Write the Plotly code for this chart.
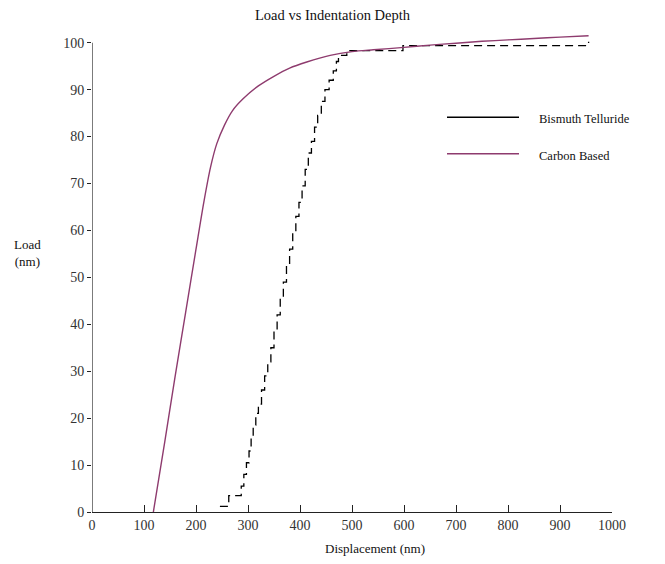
import plotly.graph_objects as go

# ---- data ----
carbon_x = [118, 140, 160, 180, 200, 215, 228, 240, 255, 270, 290, 320, 349, 380,
            413, 458, 500, 541, 600, 650, 700, 750, 800, 850, 900, 955]
carbon_y = [0, 15, 29, 42.5, 56, 66, 73.5, 78.5, 82.5, 85.5, 88, 90.8, 92.8, 94.6,
            95.9, 97.3, 98.1, 98.5, 99.0, 99.5, 99.9, 100.3, 100.6, 100.9, 101.2, 101.5]

bismuth_x = [246, 263, 287, 292, 297, 302, 306, 310, 315, 320, 326, 332, 338, 344,
             350, 356, 362, 368, 374, 380, 386, 392, 398, 404, 410, 416, 422, 428,
             434, 441, 448, 456, 464, 470, 474, 490, 598, 955]
bismuth_y = [1.2, 3.5, 5.5, 8, 10.5, 13, 16, 18.5, 21, 23, 26, 29, 32, 35,
             38.5, 42, 45.5, 49, 52.5, 56, 59.5, 63, 66, 69.5, 73, 76.5, 79, 82,
             84.5, 87.5, 90, 92, 94, 96, 97.3, 98.3, 99.4, 100.2]

x_ticks = list(range(0, 1001, 100))
y_ticks = list(range(0, 101, 10))

series_names = ["Bismuth Telluride", "Carbon Based"]
carbon_color = "#8e3b6e"
font_family = "Liberation Serif"

# page body has an 8px margin: work in screen pixels and convert
OFF = 8
W, H = 665 - OFF, 564 - OFF
PX_L, PX_R = 92, 612          # screen x of 0 and 1000
PX_Y0, PX_TOP = 512, 31.3     # screen y of load 0 and of the range top (102.5)
ml = PX_L - OFF
mr = W - (PX_R - OFF)
mt = PX_TOP - OFF
mb = H - (PX_Y0 - OFF)
pw = W - ml - mr
ph = H - mt - mb


def px_x(p):
    return (p - PX_L) / pw


def px_y(p):
    return (PX_Y0 - p) / ph


fig = go.Figure()
fig.add_trace(go.Scatter(x=bismuth_x, y=bismuth_y, mode="lines", name=series_names[0],
                         line=dict(color="black", width=1.3, dash="8px,5px", shape="hv"),
                         showlegend=False))
fig.add_trace(go.Scatter(x=carbon_x, y=carbon_y, mode="lines", name=series_names[1],
                         line=dict(color=carbon_color, width=1.4, shape="spline", smoothing=0.8),
                         showlegend=False))

shapes = [
    dict(type="line", xref="x", yref="y", x0=0, x1=0, y0=0, y1=100,
         line=dict(color="#222", width=1.2)),
    dict(type="line", xref="paper", yref="paper", x0=px_x(447), x1=px_x(519),
         y0=px_y(117.5), y1=px_y(117.5), line=dict(color="black", width=1.3)),
    dict(type="line", xref="paper", yref="paper", x0=px_x(447), x1=px_x(519),
         y0=px_y(154), y1=px_y(154), line=dict(color=carbon_color, width=1.4)),
]

annotations = [
    dict(text=series_names[0], xref="paper", yref="paper", x=px_x(537), y=px_y(119),
         xanchor="left", yanchor="middle", showarrow=False,
         font=dict(family=font_family, size=12.5, color="#111")),
    dict(text=series_names[1], xref="paper", yref="paper", x=px_x(537), y=px_y(156),
         xanchor="left", yanchor="middle", showarrow=False,
         font=dict(family=font_family, size=12.5, color="#111")),
    dict(text="Displacement (nm)", xref="paper", yref="paper", x=px_x(375), y=px_y(548),
         xanchor="center", yanchor="middle", showarrow=False,
         font=dict(family=font_family, size=13, color="#111")),
    dict(text="Load<br>(nm)", xref="paper", yref="paper", x=px_x(27), y=px_y(253),
         xanchor="center", yanchor="middle", showarrow=False, align="center",
         font=dict(family=font_family, size=13, color="#111")),
    dict(text="Load vs Indentation Depth", xref="paper", yref="paper", x=px_x(333), y=px_y(15),
         xanchor="center", yanchor="middle", showarrow=False,
         font=dict(family=font_family, size=14.5, color="#111")),
]

fig.update_layout(
    width=W, height=H,
    margin=dict(l=ml, r=mr, t=mt, b=mb, pad=0),
    paper_bgcolor="white", plot_bgcolor="white",
    font=dict(family=font_family, size=13, color="#333"),
    shapes=shapes,
    annotations=annotations,
    xaxis=dict(range=[0, 1000], tickmode="array", tickvals=x_ticks,
               ticktext=[str(v) for v in x_ticks],
               showgrid=False, zeroline=False, showline=True, linecolor="#222", linewidth=1.2,
               ticks="inside", ticklen=7, tickcolor="#222", tickwidth=1,
               tickfont=dict(family=font_family, size=14, color="#333")),
    yaxis=dict(range=[0, 102.5], tickmode="array", tickvals=y_ticks,
               ticktext=[str(v) for v in y_ticks],
               showgrid=False, zeroline=False, showline=False,
               ticks="outside", ticklen=4, tickcolor="#222", tickwidth=1,
               tickfont=dict(family=font_family, size=14, color="#333")),
)

fig.write_html("out.html")
